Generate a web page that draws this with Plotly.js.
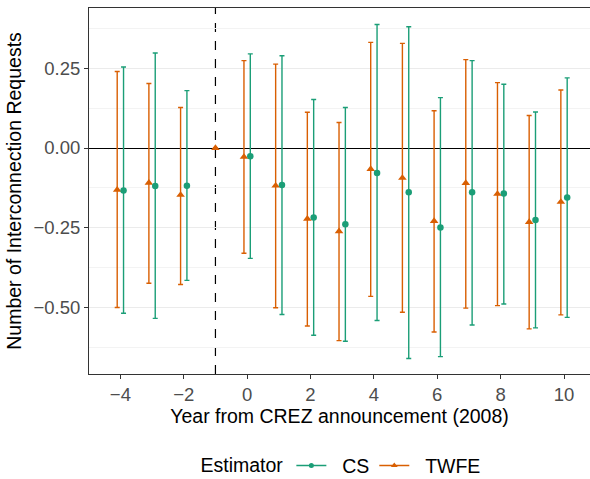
<!DOCTYPE html>
<html>
<head>
<meta charset="utf-8">
<script src="https://cdn.plot.ly/plotly-3.0.1.min.js"></script>
<style>html,body{margin:0;padding:0;background:#fff;}#chart{width:590px;height:479px;}</style>
</head>
<body>
<div id="chart"></div>
<script>
// Years relative to CREZ announcement
const years = [-4, -3, -2, -1, 0, 1, 2, 3, 4, 5, 6, 7, 8, 9, 10];

// TWFE estimates and 95% CI bounds (reference year -1 normalised to 0, no CI)
const twfeEst   = [-0.131, -0.109, -0.147, 0.000, -0.028, -0.118, -0.222, -0.261, -0.066, -0.094, -0.229, -0.110, -0.144, -0.232, -0.169];
const twfeUpper = [ 0.240,  0.202,  0.127, null,   0.274,  0.263,  0.112,  0.080,  0.331,  0.328,  0.117,  0.277,  0.205,  0.102,  0.182];
const twfeLower = [-0.500, -0.424, -0.428, null,  -0.330, -0.501, -0.558, -0.604, -0.465, -0.515, -0.577, -0.502, -0.494, -0.567, -0.523];

// CS estimates and 95% CI bounds (no estimate at reference year -1)
const csEst   = [-0.133, -0.119, -0.118, null,  -0.026, -0.116, -0.218, -0.239, -0.078, -0.139, -0.249, -0.139, -0.143, -0.226, -0.155];
const csUpper = [ 0.254,  0.298,  0.180, null,   0.295,  0.289,  0.152,  0.127,  0.387,  0.380,  0.158,  0.274,  0.200,  0.113,  0.220];
const csLower = [-0.518, -0.534, -0.415, null,  -0.346, -0.522, -0.587, -0.606, -0.541, -0.660, -0.654, -0.555, -0.489, -0.564, -0.531];

const yTickVals = [-0.5, -0.25, 0, 0.25];
const yTickText = ["\u22120.50", "\u22120.25", "0.00", "0.25"];
const xTickVals = [-4, -2, 0, 2, 4, 6, 8, 10];
const xTickText = ["\u22124", "\u22122", "0", "2", "4", "6", "8", "10"];

const CS_COLOR = "#1b9e77";
const TWFE_COLOR = "#d95f02";
const DODGE = 0.1;

// dodge positions: only shift when both estimators present
const bothPresent = years.map((y, i) => csEst[i] !== null && twfeEst[i] !== null);
const twfeX = years.map((y, i) => bothPresent[i] ? y - DODGE : y);
const csX = years.map((y, i) => bothPresent[i] ? y + DODGE : y);

const diffUp = (up, est) => up.map((u, i) => (u === null || est[i] === null) ? null : u - est[i]);
const diffDown = (lo, est) => lo.map((l, i) => (l === null || est[i] === null) ? null : est[i] - l);

const FONT = "Liberation Sans, Arial, sans-serif";
const FS = 19.5;
const TFS = 18.5;
const PAD = "\u00a0\u00a0";

const traces = [
  {
    type: "scatter", mode: "markers", x: twfeX, y: twfeEst, showlegend: false,
    marker: {symbol: "triangle-up", size: 7.5, color: TWFE_COLOR},
    error_y: {type: "data", symmetric: false,
      array: diffUp(twfeUpper, twfeEst), arrayminus: diffDown(twfeLower, twfeEst),
      color: TWFE_COLOR, thickness: 1.4, width: 2.5},
    hoverinfo: "x+y"
  },
  {
    type: "scatter", mode: "markers", x: csX, y: csEst, showlegend: false,
    marker: {symbol: "circle", size: 6.5, color: CS_COLOR},
    error_y: {type: "data", symmetric: false,
      array: diffUp(csUpper, csEst), arrayminus: diffDown(csLower, csEst),
      color: CS_COLOR, thickness: 1.4, width: 2.5},
    hoverinfo: "x+y"
  },
  // legend entries
  {type: "scatter", mode: "lines+markers", x: [null], y: [null], name: PAD + "CS",
   line: {color: CS_COLOR, width: 1.5}, marker: {symbol: "circle", size: 5, color: CS_COLOR}},
  {type: "scatter", mode: "lines+markers", x: [null], y: [null], name: PAD + "TWFE",
   line: {color: TWFE_COLOR, width: 1.5}, marker: {symbol: "triangle-up", size: 6, color: TWFE_COLOR}}
];

const layout = {
  width: 590, height: 479,
  margin: {l: 89, r: 0, t: 8, b: 105, autoexpand: false},
  paper_bgcolor: "#ffffff", plot_bgcolor: "#ffffff",
  font: {family: FONT, size: FS, color: "#000000"},
  showlegend: true,
  xaxis: {
    range: [-4.99, 10.82], tickmode: "array", tickvals: xTickVals, ticktext: xTickText,
    showgrid: false, zeroline: false,
    showline: true, mirror: true, linecolor: "#333333", linewidth: 1,
    ticks: "outside", ticklen: 4, tickcolor: "#333333", tickwidth: 1,
    tickfont: {family: FONT, size: TFS, color: "#4d4d4d"},
    title: {text: "Year from CREZ announcement (2008)", font: {family: FONT, size: FS, color: "#000000"}, standoff: 3}
  },
  yaxis: {
    range: [-0.7085, 0.4389], tickmode: "array", tickvals: yTickVals, ticktext: yTickText,
    showgrid: true, gridcolor: "#ebebeb", gridwidth: 1,
    zeroline: true, zerolinecolor: "#000000", zerolinewidth: 1, zerolinelayer: "below traces",
    minor: {tickmode: "array", tickvals: [-0.625, -0.375, -0.125, 0.125, 0.375], showgrid: true, gridcolor: "#f3f3f3", gridwidth: 1, ticks: ""},
    showline: true, mirror: false, linecolor: "#333333", linewidth: 1,
    ticks: "outside", ticklen: 4, tickcolor: "#333333", tickwidth: 1,
    tickfont: {family: FONT, size: TFS, color: "#4d4d4d"},
    title: {text: "Number of Interconnection Requests", font: {family: FONT, size: FS, color: "#000000"}, standoff: 6}
  },
  shapes: [
    {type: "line", xref: "x", yref: "paper", x0: -1, x1: -1, y0: 0, y1: 1, layer: "between",
     line: {color: "#000000", width: 1.2, dash: "dash"}}
  ],
  legend: {
    orientation: "h", x: 0.505, xanchor: "center", y: -0.251, yanchor: "middle",
    title: {text: "Estimator", side: "left", font: {family: FONT, size: FS, color: "#000000"}},
    font: {family: FONT, size: FS, color: "#000000"},
    itemwidth: 30, bgcolor: "rgba(0,0,0,0)"
  }
};

Plotly.newPlot("chart", traces, layout, {displayModeBar: false, staticPlot: true});
</script>
</body>
</html>
